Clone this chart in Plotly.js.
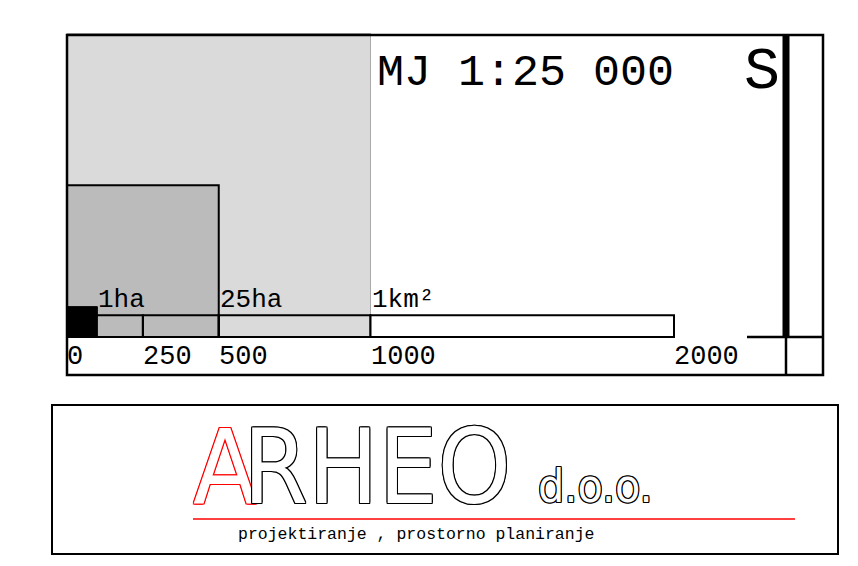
<!DOCTYPE html>
<html>
<head>
<meta charset="utf-8">
<script src="https://cdn.plot.ly/plotly-3.0.1.min.js"></script>
<style>html,body{margin:0;padding:0;background:#fff;}#chart{width:858px;height:566px;}</style>
</head>
<body>
<div id="chart"></div>
<script>
// ---- data ----
const areaLabels = ['1ha', '25ha', '1km²'];
const areaSides = [100, 500, 1000];           // side of each square, metres
const tickVals = [0, 250, 500, 1000, 2000];   // scale bar divisions, metres
const tickLabels = ['0', '250', '500', '1000', '2000'];
const scaleText = 'MJ 1:25 000';
const northText = 'S';
const logoFirst = 'A';
const logoRest = 'RHEO';
const logoSuffix = 'd.o.o.';
const logoTagline = 'projektiranje , prostorno planiranje';

// ---- styles / geometry ----
const W = 858, H = 566;
const K = 0.3035;          // px per metre
const X0 = 67, Y0 = 337;   // pixel position of 0 m
const BAR_H = 72;          // bar height in metres
const squareFill = ['#000000', '#bbbbbb', '#dadada'];
const squareLine = [{color:'#000', width:1}, {color:'#000', width:2}, {color:'#aaaaaa', width:1}];
const CAD = 'Liberation Mono, DejaVu Sans Mono, monospace';
const LOGO = 'DejaVu Sans Condensed, Liberation Sans Narrow, DejaVu Sans, sans-serif';
const px = v => v / W, py = v => 1 - v / H;
function outline(c){
  const o=[];
  [[1,0],[-1,0],[0,1],[0,-1],[1,1],[-1,-1],[1,-1],[-1,1]].forEach(d=>o.push(d[0]+'px '+d[1]+'px 0 '+c));
  return o.join(', ');
}

// squares (largest first)
const traces = [];
for (let i = areaSides.length - 1; i >= 0; i--) {
  const s = areaSides[i];
  traces.push({
    type:'scatter', mode:'lines', x:[0, s, s, 0, 0], y:[0, 0, s, s, 0],
    fill:'toself', fillcolor:squareFill[i], line:squareLine[i], hoverinfo:'skip', showlegend:false
  });
}

const shapes = [];
// scale bar segments
for (let i = 0; i < tickVals.length - 1; i++) {
  shapes.push({type:'rect', xref:'x', yref:'y', x0:tickVals[i], x1:tickVals[i+1], y0:0, y1:BAR_H,
    fillcolor: i === tickVals.length - 2 ? '#ffffff' : 'rgba(0,0,0,0)', line:{color:'#000', width:2}, layer:'above'});
}
// frames
const L = (x0,y0,x1,y1,w,c) => ({type:'line', xref:'paper', yref:'paper', x0:px(x0), x1:px(x1), y0:py(y0), y1:py(y1), line:{color:c||'#000', width:w}});
shapes.push({type:'rect', xref:'paper', yref:'paper', x0:px(67), x1:px(823), y0:py(375), y1:py(35), line:{color:'#000', width:2.5}});
shapes.push(L(786, 35, 786, 337, 7));
shapes.push(L(747, 337, 823, 337, 2.5));
shapes.push(L(786, 337, 786, 375, 2.5));
shapes.push({type:'rect', xref:'paper', yref:'paper', x0:px(52), x1:px(838), y0:py(554), y1:py(405), line:{color:'#000', width:2}});
shapes.push(L(193, 519, 795, 519, 1.5, '#ff0000'));

const annotations = [];
// tick labels
tickVals.forEach((v, i) => annotations.push({xref:'x', yref:'y', x:v, y:0, text:tickLabels[i], showarrow:false,
  xanchor:'left', yanchor:'top', xshift:-2, yshift:-3, font:{family:CAD, size:27, color:'#000'}}));
// area labels
areaSides.forEach((s, i) => annotations.push({xref:'x', yref:'y', x:s, y:BAR_H, text:areaLabels[i], showarrow:false,
  xanchor:'left', yanchor:'bottom', xshift:-1, yshift:-2, font:{family:CAD, size:26, color:'#000'}}));
// titles
annotations.push({xref:'paper', yref:'paper', x:px(375), y:py(73), text:scaleText, showarrow:false,
  xanchor:'left', yanchor:'middle', font:{family:CAD, size:45, color:'#000'}});
annotations.push({xref:'paper', yref:'paper', x:px(742), y:py(72), text:northText, showarrow:false,
  xanchor:'left', yanchor:'middle', font:{family:CAD, size:60, color:'#000'}});
// logo (A underneath, RHEO on top)
annotations.push({xref:'paper', yref:'paper', x:px(191), y:py(467), text:logoFirst, showarrow:false,
  xanchor:'left', yanchor:'middle', font:{family:LOGO, size:104, color:'#ffffff', shadow:outline('#ff0000')}});
annotations.push({xref:'paper', yref:'paper', x:px(241), y:py(467), text:logoRest, showarrow:false,
  xanchor:'left', yanchor:'middle', font:{family:LOGO, size:104, color:'#ffffff', shadow:outline('#000000')}});
annotations.push({xref:'paper', yref:'paper', x:px(536), y:py(486), text:logoSuffix, showarrow:false,
  xanchor:'left', yanchor:'middle', font:{family:LOGO, size:46, color:'#ffffff', shadow:outline('#000000')}});
annotations.push({xref:'paper', yref:'paper', x:px(236), y:py(534), text:logoTagline, showarrow:false,
  xanchor:'left', yanchor:'middle', font:{family:CAD, size:16.5, color:'#000'}});

const layout = {
  width:W, height:H, margin:{l:0, r:0, t:0, b:0}, paper_bgcolor:'#fff', plot_bgcolor:'#fff',
  showlegend:false,
  xaxis:{range:[(0 - X0) / K, (W - X0) / K], visible:false, fixedrange:true},
  yaxis:{range:[(Y0 - H) / K, Y0 / K], visible:false, fixedrange:true},
  shapes:shapes, annotations:annotations
};
Plotly.newPlot('chart', traces, layout, {staticPlot:true, displayModeBar:false});
</script>
</body>
</html>
